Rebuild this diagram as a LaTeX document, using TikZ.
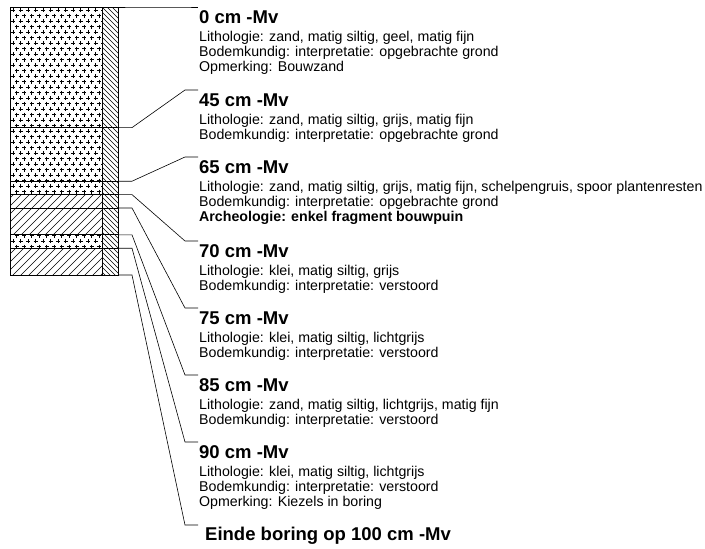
\documentclass[tikz,border=0pt]{standalone}
\usepackage{fontspec}
\setmainfont{Liberation Sans}
\newcommand{\kopfont}{\fontsize{18.5}{20}\selectfont\bfseries}
\newcommand{\regel}[1]{\hbox{#1}}
\newcommand{\boorlaag}[2]{\vtop{\baselineskip=15pt\lineskiplimit=-50pt\hbox{\kopfont #1}\vskip3pt #2}}
\tikzset{
  tekst/.style={anchor=base west, inner sep=0pt, font=\fontsize{14.2}{15}\selectfont},
  rand/.style={line width=0.9pt},
  lijn/.style={line width=0.6pt},
  arcering/.style={line width=0.5pt},
  kruisje/.style={line width=0.8pt},
}
\begin{document}
\begin{tikzpicture}[x=1pt, y=-1pt]
\useasboundingbox (0,0) rectangle (705,549);
% zand
\begin{scope}
\clip (10,7) rectangle (102,194.6) (10,234.8) rectangle (102,248.2);
\foreach \yy in {10,21,...,280}
  \foreach \xx in {13,20.5,...,106}
    \draw[kruisje] (\xx-2,\yy)--++(4,0) (\xx,\yy-2)--++(0,4)
      (\xx+1.75,\yy+5.5)--++(4,0) (\xx+3.75,\yy+3.5)--++(0,4);
\end{scope}
% klei
\begin{scope}
\clip (10,194.6) rectangle (102,234.8) (10,248.2) rectangle (102,275);
\foreach \i in {-280,-272,...,110}
  \draw[arcering] (\i,280)--(\i+280,0);
\end{scope}
% bodemkundige kolom
\begin{scope}
\clip (102,7) rectangle (118,275);
\foreach \i in {-175,-170,...,115}
  \draw[arcering] (\i,0)--(\i+280,280);
\end{scope}
\draw[rand](10,7) rectangle (118,275);
\draw[rand](102,7)--(102,275);
\foreach \d/\y in {45/127.6, 65/181.2, 70/194.6, 75/208, 85/234.8, 90/248.2}
  \draw[rand](10,\y)--(118,\y);
% dieptes en labels
\foreach \d/\y/\b in {0/7/7, 45/127.6/90, 65/181.2/157, 70/194.6/241, 75/208/308,
    85/234.8/375, 90/248.2/442, 100/275/525}{
  \coordinate (d\d) at (118,\y);
  \coordinate (k\d) at (185,\b);
  \draw[lijn](d\d)--++(14,0)--(k\d)--++(13,0);
}
\node[tekst] (l0) at (199,23.5) {\boorlaag{0 cm -Mv}{%
  \regel{Lithologie: zand, matig siltig, geel, matig fijn}%
  \regel{Bodemkundig: interpretatie: opgebrachte grond}%
  \regel{Opmerking: Bouwzand}}};
\node[tekst] (l45) at (199,106.5) {\boorlaag{45 cm -Mv}{%
  \regel{Lithologie: zand, matig siltig, grijs, matig fijn}%
  \regel{Bodemkundig: interpretatie: opgebrachte grond}}};
\node[tekst] (l65) at (199,173.5) {\boorlaag{65 cm -Mv}{%
  \regel{Lithologie: zand, matig siltig, grijs, matig fijn, schelpengruis, spoor plantenresten}%
  \regel{Bodemkundig: interpretatie: opgebrachte grond}%
  \regel{\bfseries Archeologie: enkel fragment bouwpuin}}};
\node[tekst] (l70) at (199,257.5) {\boorlaag{70 cm -Mv}{%
  \regel{Lithologie: klei, matig siltig, grijs}%
  \regel{Bodemkundig: interpretatie: verstoord}}};
\node[tekst] (l75) at (199,324.5) {\boorlaag{75 cm -Mv}{%
  \regel{Lithologie: klei, matig siltig, lichtgrijs}%
  \regel{Bodemkundig: interpretatie: verstoord}}};
\node[tekst] (l85) at (199,391.5) {\boorlaag{85 cm -Mv}{%
  \regel{Lithologie: zand, matig siltig, lichtgrijs, matig fijn}%
  \regel{Bodemkundig: interpretatie: verstoord}}};
\node[tekst] (l90) at (199,458.5) {\boorlaag{90 cm -Mv}{%
  \regel{Lithologie: klei, matig siltig, lichtgrijs}%
  \regel{Bodemkundig: interpretatie: verstoord}%
  \regel{Opmerking: Kiezels in boring}}};
\node[tekst, font=\kopfont] (einde) at (205,540.5) {Einde boring op 100 cm -Mv};
\end{tikzpicture}
\end{document}
